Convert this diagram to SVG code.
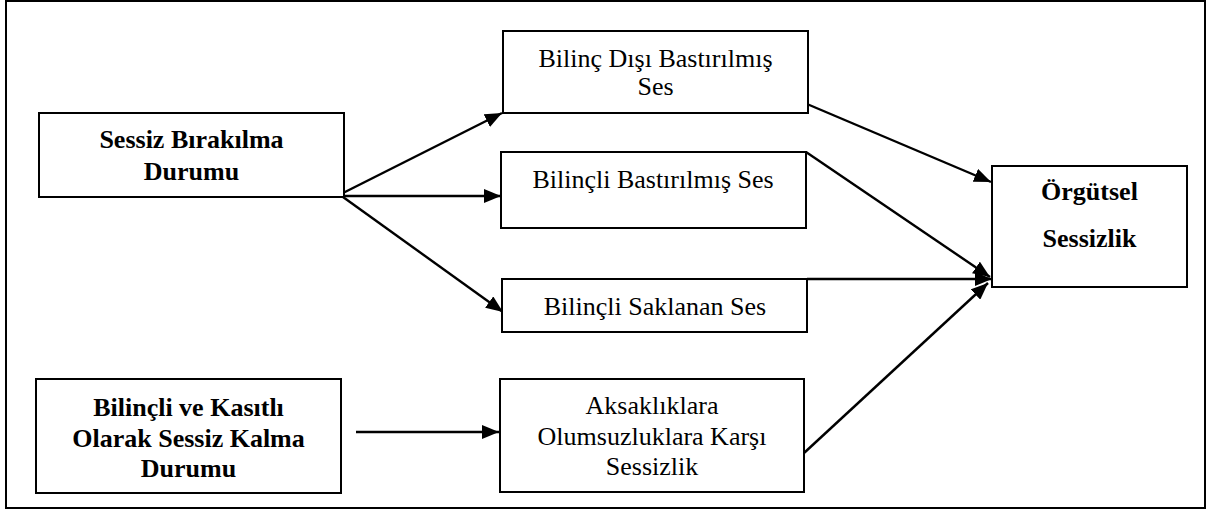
<svg xmlns="http://www.w3.org/2000/svg" width="1211" height="511" viewBox="0 0 1211 511">
  <style>
    .box { fill: #ffffff; stroke: #000000; stroke-width: 2; }
    .frame { fill: #ffffff; stroke: #000000; stroke-width: 2; }
    .lbl { font-size: 26px; fill: #000000; text-anchor: middle; }
    .bold { font-weight: bold; }
    .link { stroke: #000000; stroke-width: 2.4; fill: none; marker-end: url(#arrow); }
  </style>
  <defs>
    <marker id="arrow" markerUnits="userSpaceOnUse" markerWidth="18" markerHeight="14" refX="17" refY="7" orient="auto">
      <path d="M0,0 L17,7 L0,14 z" fill="#000000"/>
    </marker>
  </defs>

  <!-- outer frame -->
  <rect class="frame" x="6" y="1" width="1199" height="507"/>

  <!-- connectors -->
  <g id="connectors">
    <line class="link" x1="343" y1="193" x2="502" y2="113"/>
    <line class="link" x1="343" y1="196" x2="501" y2="196"/>
    <line class="link" x1="343" y1="197" x2="503" y2="312"/>
    <line class="link" x1="356" y1="432" x2="499" y2="432"/>
    <line class="link" x1="807" y1="104" x2="991" y2="182"/>
    <line class="link" x1="806" y1="152" x2="990" y2="277"/>
    <line class="link" x1="807" y1="279" x2="992" y2="279"/>
    <line class="link" x1="804" y1="453" x2="988" y2="283"/>
  </g>

  <g font-family="Liberation Serif, Tinos, Times New Roman, DejaVu Serif, serif">
    <g id="node-sessiz-birakilma">
      <rect class="box" x="39" y="113" width="305" height="84"/>
      <text class="lbl bold" x="191.5" y="148">Sessiz Bırakılma</text>
      <text class="lbl bold" x="191.5" y="180">Durumu</text>
    </g>

    <g id="node-kasitli-kalma">
      <rect class="box" x="36" y="379" width="305" height="114"/>
      <text class="lbl bold" x="188.5" y="416">Bilinçli ve Kasıtlı</text>
      <text class="lbl bold" x="188.5" y="447">Olarak Sessiz Kalma</text>
      <text class="lbl bold" x="188.5" y="477">Durumu</text>
    </g>

    <g id="node-bilinc-disi">
      <rect class="box" x="503" y="31" width="305" height="82"/>
      <text class="lbl" x="655.5" y="67">Bilinç Dışı Bastırılmış</text>
      <text class="lbl" x="655.5" y="95">Ses</text>
    </g>

    <g id="node-bilincli-bastirilmis">
      <rect class="box" x="501" y="152" width="305" height="76"/>
      <text class="lbl" x="653" y="188">Bilinçli Bastırılmış Ses</text>
    </g>

    <g id="node-bilincli-saklanan">
      <rect class="box" x="502" y="279" width="305" height="53"/>
      <text class="lbl" x="655" y="315">Bilinçli Saklanan Ses</text>
    </g>

    <g id="node-aksakliklara">
      <rect class="box" x="500" y="379" width="304" height="113"/>
      <text class="lbl" x="652" y="414">Aksaklıklara</text>
      <text class="lbl" x="652" y="445">Olumsuzluklara Karşı</text>
      <text class="lbl" x="652" y="475">Sessizlik</text>
    </g>

    <g id="node-orgutsel-sessizlik">
      <rect class="box" x="992" y="166" width="195" height="121"/>
      <text class="lbl bold" x="1089.5" y="200">Örgütsel</text>
      <text class="lbl bold" x="1089.5" y="247">Sessizlik</text>
    </g>
  </g>
</svg>
